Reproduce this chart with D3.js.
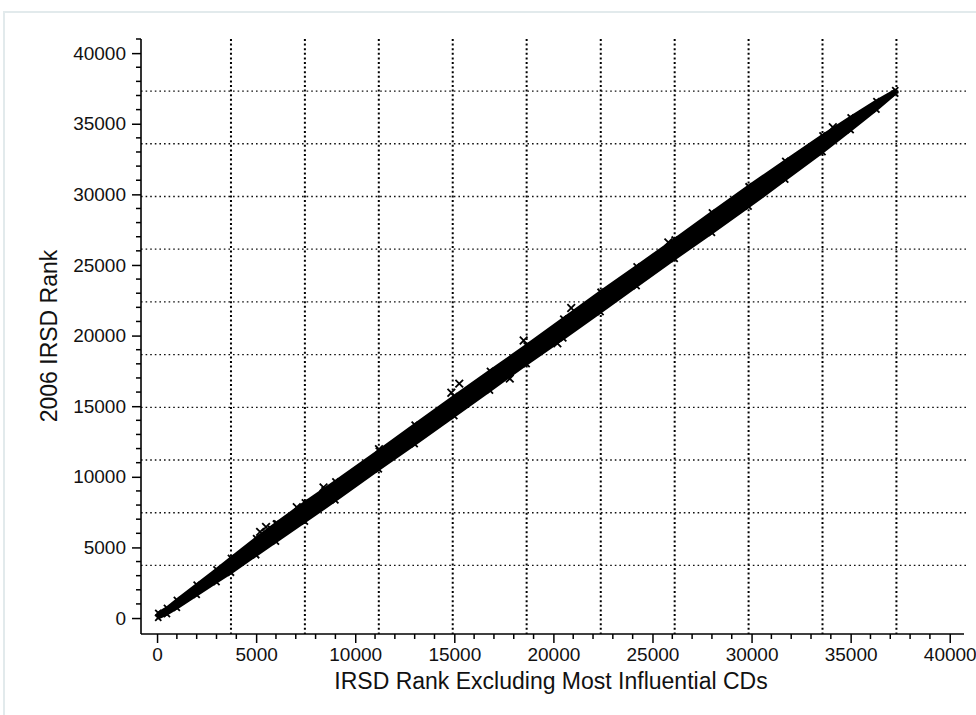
<!DOCTYPE html>
<html>
<head>
<meta charset="utf-8">
<script src="https://cdn.jsdelivr.net/npm/d3@7/dist/d3.min.js"></script>
<style>
  body { margin: 0; background: #fff; }
  text { font-family: Arial, 'Liberation Sans', sans-serif; }
</style>
</head>
<body>
<div id="chart"></div>
<script>
// tick labels
let tickValues = [0, 5000, 10000, 15000, 20000, 25000, 30000, 35000, 40000]

// decile gridlines (rank cut points)
let gridRanks = [3730, 7460, 11190, 14920, 18650, 22390, 26120, 29850, 33580, 37310]

// band of CDs: x rank and low/high 2006 rank
let bandX = [60, 500, 1000, 2000, 3000, 3730, 5000, 6000, 7460, 9000, 11190, 13000, 15000, 16800, 18650, 20500, 22380, 24200, 26120, 28000, 29850, 31700, 33580, 35000, 36300, 37250]
let bandLo = [20, 280, 720, 1640, 2550, 3210, 4450, 5410, 6830, 8330, 10530, 12310, 14300, 16110, 17990, 19800, 21660, 23500, 25440, 27280, 29130, 31040, 32990, 34550, 36000, 37130]
let bandHi = [360, 720, 1280, 2360, 3450, 4250, 5650, 6690, 8190, 9670, 11850, 13690, 15700, 17490, 19310, 21200, 23100, 24900, 26800, 28720, 30570, 32360, 34170, 35450, 36600, 37370]

// stray CDs sitting off the band
let outX = [5200, 5500, 5800, 6100, 7050, 8400, 8500, 11200, 14850, 15250, 18500, 25800, 34100, 20900, 17800, 20200]
let outY = [6100, 6450, 6250, 6650, 7850, 9250, 9000, 11950, 15950, 16600, 19650, 26600, 34750, 21950, 16950, 19450]

let width = 976
let height = 715

let svg = d3.select('#chart')
  .append('svg')
  .attr('width', width)
  .attr('height', height)

svg.append('rect')
  .attr('width', width)
  .attr('height', height)
  .attr('fill', '#fff')

// faint frame
svg.append('path')
  .attr('d', 'M4,715V12H976')
  .attr('fill', 'none')
  .attr('stroke', '#e2eaec')
  .attr('stroke-width', 2)

let xPositionScale = d3.scaleLinear().domain([-810, 40720]).range([141, 964])
let yPositionScale = d3.scaleLinear().domain([-1130, 41000]).range([634, 39])

// gridlines
svg.selectAll('.vgrid')
  .data(gridRanks)
  .enter()
  .append('line')
  .attr('class', 'vgrid')
  .attr('x1', d => xPositionScale(d))
  .attr('x2', d => xPositionScale(d))
  .attr('y1', 39)
  .attr('y2', 634)
  .attr('stroke', '#000')
  .attr('stroke-width', 2)
  .attr('stroke-dasharray', '2,2.6')

svg.selectAll('.hgrid')
  .data(gridRanks)
  .enter()
  .append('line')
  .attr('class', 'hgrid')
  .attr('x1', 141)
  .attr('x2', 966)
  .attr('y1', d => yPositionScale(d))
  .attr('y2', d => yPositionScale(d))
  .attr('stroke', '#111')
  .attr('stroke-width', 1.4)
  .attr('stroke-dasharray', '1.6,3')

// the band of points
let band = bandX.map((d, i) => ({ x: d, lo: bandLo[i], hi: bandHi[i] }))

let area = d3.area()
  .x(d => xPositionScale(d.x))
  .y0(d => yPositionScale(d.lo))
  .y1(d => yPositionScale(d.hi))

svg.append('path')
  .datum(band)
  .attr('d', area)
  .attr('fill', '#000')
  .attr('stroke', '#000')
  .attr('stroke-width', 3)
  .attr('stroke-linejoin', 'round')

let smallCross = d3.symbol().type(d3.symbolX).size(26)
let cross = d3.symbol().type(d3.symbolX).size(40)

let edges = band.map(d => ({ x: d.x, y: d.lo })).concat(band.map(d => ({ x: d.x, y: d.hi })))
let strays = outX.map((d, i) => ({ x: d, y: outY[i] }))

svg.selectAll('.edge')
  .data(edges)
  .enter()
  .append('path')
  .attr('class', 'edge')
  .attr('d', smallCross)
  .attr('transform', d => `translate(${xPositionScale(d.x)},${yPositionScale(d.y)})`)
  .attr('fill', 'none')
  .attr('stroke', '#000')
  .attr('stroke-width', 1.8)

svg.selectAll('.stray')
  .data(strays)
  .enter()
  .append('path')
  .attr('class', 'stray')
  .attr('d', cross)
  .attr('transform', d => `translate(${xPositionScale(d.x)},${yPositionScale(d.y)})`)
  .attr('fill', 'none')
  .attr('stroke', '#000')
  .attr('stroke-width', 1.8)

// axes
let xAxis = d3.axisBottom(xPositionScale)
  .tickValues(tickValues)
  .tickSize(9)
  .tickFormat(d3.format('d'))

let yAxis = d3.axisLeft(yPositionScale)
  .tickValues(tickValues)
  .tickSize(9)
  .tickFormat(d3.format('d'))

let xg = svg.append('g')
  .attr('class', 'x-axis')
  .attr('transform', 'translate(0,634)')
  .call(xAxis)

let yg = svg.append('g')
  .attr('class', 'y-axis')
  .attr('transform', 'translate(141,0)')
  .call(yAxis)

// minor ticks every 1000
xg.selectAll('.minor')
  .data(xPositionScale.ticks(40).filter(d => d % 5000 !== 0))
  .enter()
  .append('line')
  .attr('class', 'minor')
  .attr('x1', d => xPositionScale(d))
  .attr('x2', d => xPositionScale(d))
  .attr('y1', 0)
  .attr('y2', 5)
  .attr('stroke', '#000')
  .attr('stroke-width', 1.5)

yg.selectAll('.minor')
  .data(yPositionScale.ticks(40).filter(d => d % 5000 !== 0 && d > 0))
  .enter()
  .append('line')
  .attr('class', 'minor')
  .attr('y1', d => yPositionScale(d))
  .attr('y2', d => yPositionScale(d))
  .attr('x1', 0)
  .attr('x2', -5)
  .attr('stroke', '#000')
  .attr('stroke-width', 1.5)

xg.select('.domain')
  .attr('stroke', '#000')
  .attr('stroke-width', 1.6)
  .attr('d', 'M141,0H964')

yg.select('.domain')
  .attr('stroke', '#000')
  .attr('stroke-width', 1.6)
  .attr('d', 'M0,39V634')

xg.selectAll('.tick line').attr('stroke', '#000').attr('stroke-width', 1.5)
yg.selectAll('.tick line').attr('stroke', '#000').attr('stroke-width', 1.5)

xg.selectAll('.tick text')
  .attr('font-size', 19)
  .attr('font-family', 'Arial, Liberation Sans, sans-serif')
  .attr('fill', '#111')
  .attr('y', 14)
  .attr('dy', '0.71em')

yg.selectAll('.tick text')
  .attr('font-size', 19)
  .attr('font-family', 'Arial, Liberation Sans, sans-serif')
  .attr('fill', '#111')
  .attr('x', -15)

// axis titles
svg.append('text')
  .text('IRSD Rank Excluding Most Influential CDs')
  .attr('x', 551)
  .attr('y', 689)
  .attr('text-anchor', 'middle')
  .attr('font-size', 23)
  .attr('fill', '#111')

svg.append('text')
  .text('2006 IRSD Rank')
  .attr('text-anchor', 'middle')
  .attr('font-size', 23)
  .attr('fill', '#111')
  .attr('transform', 'translate(57,336) rotate(-90)')
</script>
</body>
</html>
